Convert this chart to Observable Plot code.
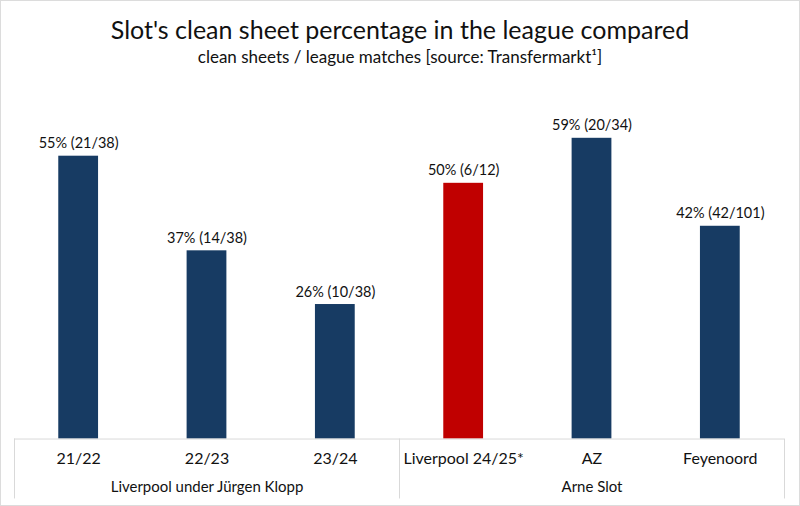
<!DOCTYPE html>
<html><head><meta charset="utf-8">
<script src="https://cdn.jsdelivr.net/npm/d3@7"></script>
<script src="https://cdn.jsdelivr.net/npm/@observablehq/plot@0.6"></script>
<style>
body{margin:0;background:#fff;}
#wrap{position:relative;width:800px;height:506px;box-sizing:border-box;border:1px solid #dcdcdc;font-family:Lato,sans-serif;color:#111;overflow:hidden;background:#fff}
#title{position:absolute;top:11px;left:0;width:100%;text-align:center;font-size:25px;line-height:34px;font-weight:400;}
#sub{position:absolute;top:45px;left:0;width:100%;text-align:center;font-size:17px;line-height:22px;}
#chart{position:absolute;top:79px;left:-1px;}
</style>
</head><body>
<div id="wrap">
<div id="title">Slot's clean sheet percentage in the league compared</div>
<div id="sub">clean sheets / league matches [source: Transfermarkt¹]</div>
<div id="chart"></div>
</div>
<script>
const categories = ["21/22", "22/23", "23/24", "Liverpool 24/25*", "AZ", "Feyenoord"];
const groupOf = ["Liverpool under Jürgen Klopp", "Liverpool under Jürgen Klopp", "Liverpool under Jürgen Klopp", "Arne Slot", "Arne Slot", "Arne Slot"];
const cleanSheets = [21, 14, 10, 6, 20, 42];
const matches = [38, 38, 38, 12, 34, 101];
const percentages = [55.3, 36.8, 26.3, 50.0, 58.8, 41.6];
const labels = ["55% (21/38)", "37% (14/38)", "26% (10/38)", "50% (6/12)", "59% (20/34)", "42% (42/101)"];
const kind = ["other", "other", "other", "current", "other", "other"];
const groupNames = ["Liverpool under Jürgen Klopp", "Arne Slot"];
const groupCenters = ["22/23", "AZ"];
const groupStarts = ["21/22", "Liverpool 24/25*"];
const groupEnd = ["Feyenoord"];

const data = categories.map((c, i) => ({category: c, group: groupOf[i], pct: percentages[i], label: labels[i], kind: kind[i]}));
const groupData = groupNames.map((g, i) => ({name: g, center: groupCenters[i]}));

const W = 800, H = 426, ML = 14, MR = 15, MT = 21, MB = 67;
const step = (W - ML - MR) / categories.length;
const lineColor = "#d9d9d9";

const chart = Plot.plot({
  width: W, height: H,
  marginLeft: ML, marginRight: MR, marginTop: MT, marginBottom: MB,
  x: {domain: categories, paddingInner: 0.69, paddingOuter: 0.345, round: false, axis: null},
  y: {domain: [0, 66], axis: null},
  color: {domain: ["other", "current"], range: ["#173b63", "#c00000"]},
  style: {fontFamily: "Lato, sans-serif", color: "#111", background: "transparent", overflow: "visible"},
  marks: [
    Plot.barY(data, {x: "category", y: "pct", fill: "kind"}),
    Plot.text(data, {x: "category", y: "pct", text: "label", lineAnchor: "bottom", dy: -8, fontSize: 14.5, fill: "#111"}),
    Plot.ruleY([0], {stroke: lineColor}),
    Plot.ruleX(groupStarts, {x: d => d, y1: 0, y2: 0, dx: -step / 2, insetBottom: -60, stroke: lineColor}),
    Plot.ruleX(groupEnd, {x: d => d, y1: 0, y2: 0, dx: step / 2, insetBottom: -60, stroke: lineColor}),
    Plot.axisX({tickSize: 0, tickPadding: 14, fontSize: 16, fill: "#111"}),
    Plot.text(groupData, {x: "center", text: "name", frameAnchor: "bottom", dy: 53, fontSize: 15, fill: "#111"})
  ]
});
document.getElementById("chart").appendChild(chart);
</script>
</body></html>
